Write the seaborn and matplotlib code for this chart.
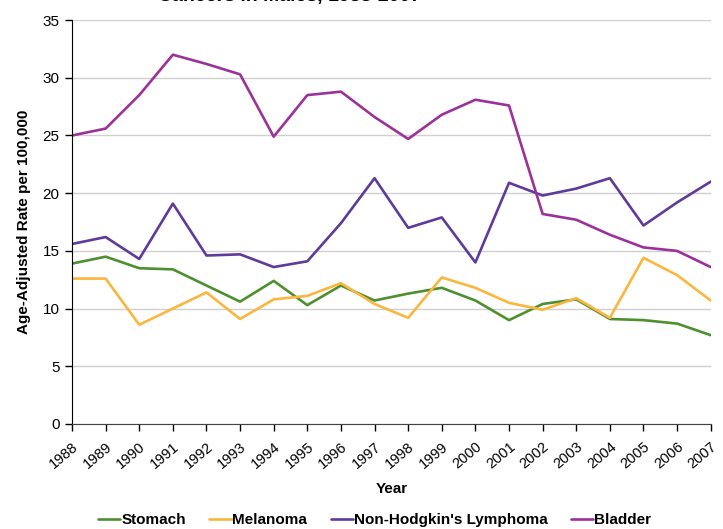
import matplotlib
matplotlib.use("Agg")
import matplotlib.pyplot as plt
import pandas as pd
import seaborn as sns

years = list(range(1988, 2008))
stomach = [13.9, 14.5, 13.5, 13.4, 12.0, 10.6, 12.4, 10.3, 12.0, 10.7,
           11.3, 11.8, 10.7, 9.0, 10.4, 10.8, 9.1, 9.0, 8.7, 7.7]
melanoma = [12.6, 12.6, 8.6, 10.0, 11.4, 9.1, 10.8, 11.1, 12.2, 10.4,
            9.2, 12.7, 11.8, 10.5, 9.9, 10.9, 9.2, 14.4, 12.9, 10.7]
nhl = [15.6, 16.2, 14.3, 19.1, 14.6, 14.7, 13.6, 14.1, 17.4, 21.3,
       17.0, 17.9, 14.0, 20.9, 19.8, 20.4, 21.3, 17.2, 19.2, 21.0]
bladder = [25.0, 25.6, 28.5, 32.0, 31.2, 30.3, 24.9, 28.5, 28.8, 26.6,
           24.7, 26.8, 28.1, 27.6, 18.2, 17.7, 16.4, 15.3, 15.0, 13.6]

series_names = ["Stomach", "Melanoma", "Non-Hodgkin's Lymphoma", "Bladder"]
series_colors = ["#4E8F2F", "#FBB63F", "#5E3B9B", "#9B3199"]

df = pd.DataFrame({
    "Year": years * 4,
    "Rate": stomach + melanoma + nhl + bladder,
    "Cancer": [n for n in series_names for _ in years],
})

sns.set_style("white")
plt.rcParams["font.family"] = ["Liberation Sans", "DejaVu Sans"]
plt.rcParams["text.color"] = "black"
plt.rcParams["xtick.color"] = "black"
plt.rcParams["ytick.color"] = "black"
plt.rcParams["axes.labelcolor"] = "black"

fig = plt.figure(figsize=(7.23, 5.29), dpi=100)
ax = fig.add_axes([0.0996, 0.1985, 0.8834, 0.7635])

sns.lineplot(data=df, x="Year", y="Rate", hue="Cancer", hue_order=series_names,
             palette=series_colors, linewidth=1.9, ax=ax, legend=True)

ax.set_xlim(1988, 2007)
ax.set_ylim(0, 35)
ax.set_yticks(range(0, 36, 5))
ax.set_xticks(years)
ax.set_xticklabels([str(y) for y in years], rotation=40, ha="right", va="top",
                   rotation_mode="anchor", fontsize=10.5)
ax.tick_params(axis="y", labelsize=11, length=5, width=1, direction="out", left=True, pad=4)
ax.tick_params(axis="x", length=5, width=1, direction="out", bottom=True, pad=6)
ax.yaxis.grid(True, color="#D0D0D0", linewidth=1)
ax.xaxis.grid(False)
for side in ("top", "right"):
    ax.spines[side].set_visible(False)
ax.spines["left"].set_color("black")
ax.spines["bottom"].set_color("#444444")

ax.set_xlabel("Year", fontsize=11, fontweight="bold", labelpad=8)
ax.set_ylabel("Age-Adjusted Rate per 100,000", fontsize=11, fontweight="bold", labelpad=8)

handles, labels = ax.get_legend_handles_labels()
ax.legend(handles, labels, loc="center", bbox_to_anchor=(0.474, -0.238),
          ncol=4, frameon=False, handlelength=1.45, handletextpad=0.05,
          columnspacing=1.55, prop={"weight": "bold", "size": 11})

fig.text(0.40, 0.999, "Cancers in Males, 1988-2007", ha="center", va="baseline",
         fontsize=14, fontweight="bold")

fig.savefig("out.png", dpi=100)
